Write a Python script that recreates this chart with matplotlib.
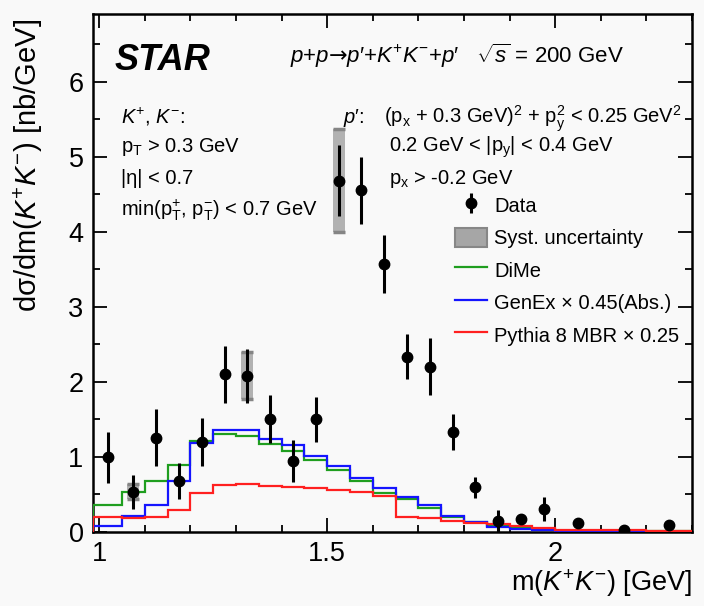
import matplotlib
matplotlib.use('Agg')
import matplotlib.pyplot as plt
from matplotlib.patches import Rectangle, Patch
from matplotlib.ticker import MultipleLocator, FormatStrFormatter

plt.rcParams['font.family'] = ['Liberation Sans', 'DejaVu Sans']
plt.rcParams['mathtext.fontset'] = 'custom'
plt.rcParams['mathtext.rm'] = 'Liberation Sans'
plt.rcParams['mathtext.it'] = 'Liberation Sans:italic'
plt.rcParams['mathtext.bf'] = 'Liberation Sans:bold'
plt.rcParams['mathtext.sf'] = 'DejaVu Sans'

# m(K+K-) binning [GeV]
edges = [0.987, 1.05, 1.10, 1.15, 1.20, 1.25, 1.30, 1.35, 1.40, 1.45, 1.50,
         1.55, 1.60, 1.65, 1.70, 1.75, 1.80, 1.85, 1.90, 1.95, 2.00,
         2.10, 2.20, 2.30]
centers = [1.0185, 1.075, 1.125, 1.175, 1.225, 1.275, 1.325, 1.375, 1.425,
           1.475, 1.525, 1.575, 1.625, 1.675, 1.725, 1.775, 1.825, 1.875,
           1.925, 1.975, 2.05, 2.15, 2.25]

# measured cross section [nb/GeV]
data = [0.99, 0.53, 1.25, 0.67, 1.19, 2.10, 2.08, 1.50, 0.94, 1.50, 4.68,
        4.55, 3.57, 2.33, 2.20, 1.33, 0.59, 0.14, 0.17, 0.30, 0.11, 0.02, 0.09]
stat_err = [0.34, 0.23, 0.38, 0.24, 0.32, 0.38, 0.36, 0.32, 0.28, 0.30, 0.47,
            0.45, 0.39, 0.30, 0.38, 0.24, 0.14, 0.15, 0.06, 0.16, 0.04, 0.03, 0.05]
syst_err = [0, 0.10, 0, 0, 0, 0, 0.31, 0, 0, 0, 0.69,
            0, 0, 0, 0, 0, 0, 0, 0, 0, 0, 0, 0]

# model predictions
dime = [0.36, 0.53, 0.68, 0.89, 1.21, 1.30, 1.27, 1.17, 1.07, 0.96, 0.82,
        0.67, 0.52, 0.43, 0.31, 0.19, 0.13, 0.08, 0.05, 0.03, 0.01, 0.005, 0.003]
genex = [0.07, 0.21, 0.36, 0.67, 1.18, 1.36, 1.35, 1.24, 1.15, 1.01, 0.87,
         0.72, 0.58, 0.46, 0.35, 0.21, 0.13, 0.06, 0.03, 0.02, 0.01, 0.002, 0.0]
pythia = [0.20, 0.18, 0.19, 0.29, 0.51, 0.62, 0.64, 0.61, 0.60, 0.58, 0.56,
          0.53, 0.48, 0.20, 0.18, 0.14, 0.12, 0.10, 0.07, 0.05, 0.025, 0.015, 0.01]

bg = '#f9f9f9'
fig = plt.figure(figsize=(7.04, 6.06), dpi=100, facecolor=bg)
ax = fig.add_axes([0.1325, 0.1229, 0.8505, 0.854])
ax.set_facecolor(bg)

# syst boxes
box_w = 0.026
for c, y, s in zip(centers, data, syst_err):
    if s > 0:
        ax.add_patch(Rectangle((c - box_w / 2, y - s), box_w, 2 * s,
                               facecolor='#b2b2b2', edgecolor='none', zorder=2))
        ax.hlines([y - s, y + s], c - box_w / 2, c + box_w / 2,
                  color='#858585', lw=2.5, zorder=2)

ax.stairs(dime, edges, color='#1f9e1f', lw=1.6, label='DiMe', zorder=3)
ax.stairs(genex, edges, color='#1515ff', lw=1.6, label='GenEx × 0.45(Abs.)', zorder=3)
ax.stairs(pythia, edges, color='#ff2020', lw=1.6, label='Pythia 8 MBR × 0.25', zorder=3)

eb = ax.errorbar(centers, data, yerr=stat_err, fmt='o', color='black', ms=7.5,
                 elinewidth=2.2, capsize=0, zorder=5)

ax.set_xlim(0.987, 2.3)
ax.set_ylim(0, 6.9)

ax.xaxis.set_major_locator(MultipleLocator(0.5))
ax.xaxis.set_minor_locator(MultipleLocator(0.1))
ax.yaxis.set_major_locator(MultipleLocator(1))
ax.yaxis.set_minor_locator(MultipleLocator(0.5))
ax.xaxis.set_major_formatter(FormatStrFormatter('%g'))
ax.tick_params(which='both', direction='in', top=True, right=True, width=1.3)
ax.tick_params(which='major', length=10, labelsize=19.5, pad=7)
ax.tick_params(which='minor', length=5)
for sp in ax.spines.values():
    sp.set_linewidth(1.8)

ax.set_xlabel('m($K^{+}K^{-}$) [GeV]', fontsize=19.5, ha='right')
ax.xaxis.set_label_coords(1.0, -0.07)
ax.set_ylabel('dσ/dm($K^{+}K^{-}$) [nb/GeV]', fontsize=21, ha='right')
ax.yaxis.set_label_coords(-0.08, 0.99)


def px(x, y):
    # figure pixel -> axes fraction
    return (x - 93.3) / 598.7, (531.5 - y) / 517.5


kw = dict(transform=ax.transAxes, va='baseline', ha='left', fontsize=14.5)
ax.text(*px(115, 70), 'STAR', fontsize=26, fontweight='bold', fontstyle='italic',
        transform=ax.transAxes, va='baseline')
ax.text(*px(290, 63), "$p$+$p$$\\mathsf{→}$$p$′+$K^{+}K^{-}$+$p$′   $\\sqrt{s}$ = 200 GeV",
        transform=ax.transAxes, va='baseline', fontsize=16)

ax.text(*px(121, 123), '$K^{+}$, $K^{-}$:', **kw)
ax.text(*px(121, 151.5), r'p$_\mathrm{T}$ > 0.3 GeV', **kw)
ax.text(*px(121, 183.5), '|η| < 0.7', **kw)
ax.text(*px(121, 215), r'min(p$_\mathrm{T}^{+}$, p$_\mathrm{T}^{-}$) < 0.7 GeV', **kw)

ax.text(*px(343, 123), "$p$′:", **kw)
ax.text(*px(384, 123), r'(p$_\mathrm{x}$ + 0.3 GeV)$^{2}$ + p$_\mathrm{y}^{2}$ < 0.25 GeV$^{2}$', **kw)
ax.text(*px(389, 151.5), r'0.2 GeV < |p$_\mathrm{y}$| < 0.4 GeV', **kw)
ax.text(*px(389, 183.5), r'p$_\mathrm{x}$ > -0.2 GeV', **kw)

syst_handle = Patch(facecolor='#a6a6a6', edgecolor='#878787', lw=1.5)
handles, labels = ax.get_legend_handles_labels()
ax.legend([eb, syst_handle] + handles, ['Data', 'Syst. uncertainty'] + labels,
          loc='upper left', bbox_to_anchor=px(455, 195), frameon=False,
          fontsize=14.5, handlelength=1.6, handleheight=1.1, handletextpad=0.35,
          labelspacing=0.6, borderpad=0, borderaxespad=0)

fig.savefig('out.png', dpi=100, facecolor=bg)
